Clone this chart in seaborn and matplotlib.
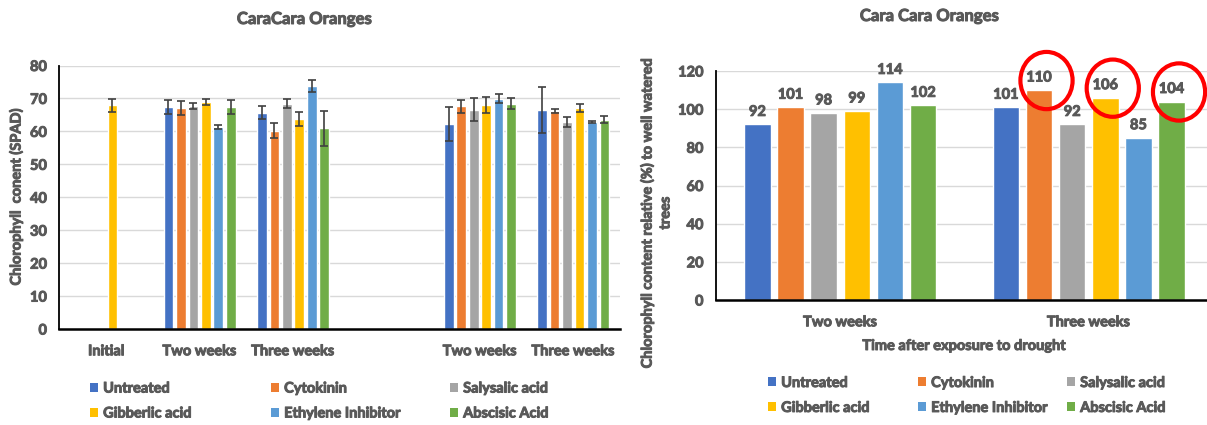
import pandas as pd
import matplotlib.pyplot as plt
import matplotlib.patheffects as pe
from matplotlib.text import Text
import seaborn as sns
from matplotlib.patches import Patch, Ellipse

# treatments and Excel-like colours
treatments = ["Untreated", "Cytokinin", "Salysalic acid", "Gibberlic acid",
              "Ethylene Inhibitor", "Abscisic Acid"]
colors = ["#4472C4", "#ED7D31", "#A5A5A5", "#FFC000", "#5B9BD5", "#70AD47"]

# left chart: chlorophyll content (SPAD), mean and error
left_labels = ["Initial", "Two weeks", "Three weeks", "", "Two weeks", "Three weeks"]
initial_gib = 67.9
initial_gib_err = 1.9
two_weeks_a = [67.3, 67.1, 67.8, 68.9, 61.4, 67.3]
two_weeks_a_err = [2.1, 2.1, 0.9, 0.9, 0.55, 2.1]
three_weeks_a = [65.7, 60.2, 68.4, 63.7, 73.7, 61.0]
three_weeks_a_err = [1.9, 2.3, 1.3, 2.1, 1.8, 5.3]
two_weeks_b = [62.2, 67.6, 66.5, 68.0, 69.9, 68.4]
two_weeks_b_err = [5.2, 1.9, 3.5, 2.4, 1.4, 1.7]
three_weeks_b = [66.5, 66.1, 62.9, 67.1, 62.9, 63.6]
three_weeks_b_err = [7.1, 0.55, 1.6, 1.1, 0.25, 1.0]

# right chart: relative chlorophyll content (%)
right_groups = ["Two weeks", "Three weeks"]
rel_two_weeks = [92, 101, 98, 99, 114, 102]
rel_three_weeks = [101, 110, 92, 106, 85, 104]
circled = ["Cytokinin", "Gibberlic acid", "Abscisic Acid"]

TXT = "#595959"
FS = 10.5
W, H = 1207, 425

sns.set_theme(style="white")
plt.rcParams['font.family'] = ['Lato', 'DejaVu Sans']
plt.rcParams['font.weight'] = 'bold'

# tables for seaborn
slots = ["s0", "s1", "s2", "s3", "s4", "s5"]
rows = [("s0", "Gibberlic acid", initial_gib, initial_gib_err)]
for key, vals, errs in [("s1", two_weeks_a, two_weeks_a_err),
                        ("s2", three_weeks_a, three_weeks_a_err),
                        ("s4", two_weeks_b, two_weeks_b_err),
                        ("s5", three_weeks_b, three_weeks_b_err)]:
    for t, v, e in zip(treatments, vals, errs):
        rows.append((key, t, v, e))
df_left = pd.DataFrame(rows, columns=["slot", "treatment", "value", "err"])

rows = []
for g, vals in zip(right_groups, [rel_two_weeks, rel_three_weeks]):
    for t, v in zip(treatments, vals):
        rows.append((g, t, v))
df_right = pd.DataFrame(rows, columns=["group", "treatment", "value"])

fig = plt.figure(figsize=(W / 100, H / 100), dpi=100)
ax1 = fig.add_axes([59.5 / W, 96 / H, (620 - 59.5) / W, 263.5 / H])
ax2 = fig.add_axes([716 / W, 125 / H, (1213 - 716) / W, 229 / H])

# --- left chart
sns.barplot(data=df_left, x="slot", y="value", hue="treatment", order=slots,
            hue_order=treatments, palette=colors, saturation=1, width=0.8,
            gap=0.22, errorbar=None, legend=False, ax=ax1)
slot_w = 0.8 / len(treatments)
bar_conts = list(ax1.containers)
for cont in bar_conts:
    for bar in cont:
        if bar is None:
            continue
        cx = bar.get_x() + bar.get_width() / 2
        gi = int(round(cx))
        hi = int(round((cx - gi) / slot_w + 2.5))
        sel = df_left[(df_left.slot == slots[gi]) & (df_left.treatment == treatments[hi])]
        if len(sel):
            ax1.errorbar(cx, bar.get_height(), yerr=sel.err.iloc[0], fmt='none',
                         ecolor="#404040", elinewidth=1.2, capsize=2.8, capthick=1.2)
ax1.set_ylim(0, 80)
ax1.set_xlim(-0.5, 5.5)
ax1.set_xticks(range(len(slots)))
ax1.set_xticklabels(left_labels)

# --- right chart
sns.barplot(data=df_right, x="group", y="value", hue="treatment", order=right_groups,
            hue_order=treatments, palette=colors, saturation=1, width=0.8,
            gap=0.2, errorbar=None, legend=False, ax=ax2)
bar_conts = list(ax2.containers)
for cont in bar_conts:
    ax2.bar_label(cont, fmt="%d", padding=4, fontsize=FS, fontweight='bold', color=TXT)
for cont, t in zip(bar_conts, treatments):
    if t in circled:
        bar = cont[1]
        cx = bar.get_x() + bar.get_width() / 2
        ax2.add_patch(Ellipse((cx + 0.03, bar.get_height() + 5), 0.21, 30, fill=False,
                              ec="#FF0000", lw=3, clip_on=False, zorder=5))
ax2.set_ylim(0, 120)
ax2.set_xlim(-0.5, 1.5)
ax2.set_yticks(range(0, 121, 20))

for ax in (ax1, ax2):
    ax.set_xlabel("")
    ax.set_ylabel("")
    ax.grid(axis='y', color="#D9D9D9", lw=1)
    ax.set_axisbelow(True)
    ax.tick_params(length=0, labelsize=FS, labelcolor=TXT)
    ax.tick_params(axis='y', pad=9)
    ax.tick_params(axis='x', pad=11)
    for s in ("top", "right"):
        ax.spines[s].set_visible(False)
    ax.spines["left"].set_color("#000000")
    ax.spines["bottom"].set_color("#000000")
    ax.spines["left"].set_linewidth(1.3)
    ax.spines["bottom"].set_linewidth(1.8)

ax2.set_xlabel("Time after exposure to drought", fontsize=FS, fontweight='bold',
               color=TXT, labelpad=7)

# titles and y labels
fig.text(304 / W, 1 - 19 / H, "CaraCara Oranges", ha='center', va='center',
         fontsize=12, fontweight='bold', color=TXT)
fig.text(929 / W, 1 - 16 / H, "Cara Cara Oranges", ha='center', va='center',
         fontsize=12, fontweight='bold', color=TXT)
fig.text(16 / W, 1 - 197 / H, "Chlorophyll  conent (SPAD)", rotation=90,
         ha='center', va='center', fontsize=FS, fontweight='bold', color=TXT)
fig.text(656 / W, 1 - 213 / H, "Chlorophyll content relative (%) to well watered\ntrees",
         rotation=90, ha='center', va='center', multialignment='center',
         fontsize=FS, fontweight='bold', color=TXT, linespacing=1.35)

# legends: one small legend per column so the columns sit where they should
handles = [Patch(facecolor=c, edgecolor='none', label=t) for c, t in zip(colors, treatments)]


def column_legends(xs, y_mid):
    for j, x in enumerate(xs):
        fig.legend(handles=[handles[j], handles[j + 3]], loc='center left',
                   bbox_to_anchor=(x / W, 1 - y_mid / H), frameon=False,
                   borderpad=0, borderaxespad=0, handlelength=0.55, handleheight=0.55,
                   handletextpad=0.35, labelspacing=0.75, labelcolor=TXT,
                   prop={'size': FS, 'weight': 'bold'})


column_legends([90, 271, 450], 401)
column_legends([768, 918, 1067], 395.5)

# heavier strokes on the text, like the bold Calibri of the original
for txt in fig.findobj(Text):
    txt.set_path_effects([pe.withStroke(linewidth=0.7, foreground=TXT)])

fig.savefig("out.png", dpi=100)
